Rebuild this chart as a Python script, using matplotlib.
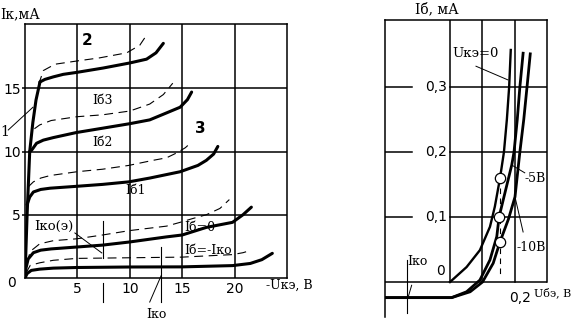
import matplotlib
matplotlib.use("Agg")
import matplotlib.pyplot as plt

# ---------------- data: left panel (Ik vs -Uke) ----------------
sat_u = [0.0, 0.2, 0.45, 0.75, 1.05, 1.43]
sat_i = [0.0, 5.0, 10.0, 12.3, 14.07, 15.5]

ib3_u = [1.43, 1.9, 2.7, 3.65, 4.9, 7.46, 10.0, 11.6, 12.5, 13.2]
ib3_i = [15.5, 15.7, 15.9, 16.1, 16.25, 16.6, 17.0, 17.3, 17.8, 18.55]
ib3d_u = [1.3, 1.75, 2.86, 4.9, 7.1, 9.7, 10.95, 11.6]
ib3d_i = [15.3, 16.4, 16.9, 17.15, 17.4, 17.8, 18.4, 19.2]

ib2_u = [0.45, 0.63, 1.1, 1.75, 2.7, 4.9, 7.46, 10.0, 11.9, 13.5, 14.8, 15.5, 15.9]
ib2_i = [10.0, 10.1, 10.65, 10.9, 11.1, 11.5, 11.85, 12.2, 12.5, 13.05, 13.5, 14.1, 14.7]
ib2d_u = [0.9, 1.4, 2.5, 4.95, 7.4, 10.0, 11.9, 13.2, 14.1]
ib2d_i = [11.8, 12.1, 12.45, 12.75, 12.9, 13.2, 13.75, 14.5, 15.4]

ib1_u = [0.2, 0.45, 0.8, 1.5, 2.4, 4.95, 7.4, 9.9, 11.9, 14.8, 16.5, 17.3, 18.0, 18.4]
ib1_i = [5.8, 6.4, 6.8, 7.0, 7.1, 7.25, 7.4, 7.6, 7.9, 8.4, 8.9, 9.3, 9.8, 10.4]
ib1d_u = [0.3, 0.8, 1.5, 2.4, 4.95, 7.4, 9.9, 12.2, 13.5, 14.5, 15.3, 15.9]
ib1d_i = [7.2, 7.6, 7.9, 8.1, 8.4, 8.6, 8.9, 9.3, 9.5, 9.9, 10.3, 10.75]

ib0_u = [0.0, 0.1, 0.3, 0.8, 1.5, 2.5, 4.95, 7.4, 10.0, 13.5, 15.0, 17.3, 19.8, 20.8, 21.6]
ib0_i = [0.0, 0.8, 1.5, 2.0, 2.2, 2.3, 2.45, 2.6, 2.85, 3.25, 3.4, 4.0, 4.4, 5.0, 5.6]
ib0d_u = [0.2, 0.5, 1.4, 2.7, 4.95, 7.4, 10.0, 12.0, 13.5, 14.8, 16.0, 17.3, 18.6, 19.5]
ib0d_i = [1.2, 2.1, 2.7, 2.95, 3.1, 3.4, 3.75, 3.95, 4.1, 4.4, 4.7, 5.0, 5.5, 6.2]

ibk_u = [0.0, 0.2, 0.6, 1.4, 2.7, 4.95, 10.0, 15.0, 19.8, 21.5, 22.6, 23.6]
ibk_i = [0.0, 0.35, 0.6, 0.7, 0.78, 0.83, 0.87, 0.88, 0.98, 1.15, 1.45, 1.95]
ibkd_u = [0.1, 0.5, 1.4, 2.7, 4.95, 10.0, 15.0, 19.8, 20.8, 21.6]
ibkd_i = [0.4, 1.0, 1.2, 1.4, 1.55, 1.6, 1.65, 1.85, 2.0, 2.2]

left_xticks = [5, 10, 15, 20]
left_yticks = [5, 10, 15]

# ---------------- data: right panel (Ib vs Ube) ----------------
a_u = [0.0, 0.051, 0.092, 0.123, 0.138, 0.154, 0.166, 0.175, 0.182, 0.187]
a_i = [0.0, 0.023, 0.049, 0.085, 0.116, 0.16, 0.2, 0.25, 0.3, 0.357]
b_u = [-0.2, 0.005, 0.051, 0.092, 0.123, 0.144, 0.151, 0.169, 0.19, 0.197, 0.207, 0.215, 0.225]
b_i = [-0.024, -0.024, -0.015, 0.003, 0.034, 0.07, 0.1, 0.137, 0.18, 0.2, 0.25, 0.3, 0.352]
c_u = [-0.2, 0.005, 0.062, 0.1, 0.133, 0.154, 0.18, 0.2, 0.215, 0.227, 0.237, 0.247]
c_i = [-0.024, -0.024, -0.015, 0.0, 0.029, 0.062, 0.097, 0.131, 0.2, 0.25, 0.3, 0.351]
circ_u = [0.154, 0.151, 0.155]
circ_i = [0.16, 0.1, 0.062]
right_yticks = [0.1, 0.2, 0.3]
right_ylabels = ["0,1", "0,2", "0,3"]
right_xgrid = [0.0, 0.1, 0.2]

SERIF = "DejaVu Serif"
SANS = "DejaVu Sans"

fig = plt.figure(figsize=(5.75, 3.23), dpi=100)

# ======================= left panel =======================
ax = fig.add_axes([25 / 575, 45 / 323, 262 / 575, 254 / 323])
ax.set_xlim(0, 25)
ax.set_ylim(0, 20.08)
for s in ax.spines.values():
    s.set_linewidth(1.1)
for x in left_xticks:
    ax.axvline(x, color="black", lw=1.1, zorder=1)
for y in left_yticks:
    ax.axhline(y, color="black", lw=1.1, zorder=1)

ax.set_xticks(left_xticks)
ax.set_xticklabels([str(v) for v in left_xticks], fontsize=10, family=SANS)
ax.set_yticks(left_yticks)
ax.set_yticklabels([str(v) for v in left_yticks], fontsize=10, family=SANS)
ax.tick_params(axis="x", length=0, pad=3)
ax.tick_params(axis="y", length=2, width=1.1, pad=1)

thick = dict(color="black", lw=2.2, solid_capstyle="round", solid_joinstyle="round", zorder=3)
thin = dict(color="black", lw=0.8, zorder=2)
dsh = (8, 5)

ax.plot(sat_u, sat_i, **thick)
for u, i in [(ib3_u, ib3_i), (ib2_u, ib2_i), (ib1_u, ib1_i), (ib0_u, ib0_i), (ibk_u, ibk_i)]:
    ax.plot(u, i, **thick)
for u, i in [(ib3d_u, ib3d_i), (ib2d_u, ib2d_i), (ib1d_u, ib1d_i), (ib0d_u, ib0d_i), (ibkd_u, ibkd_i)]:
    ax.plot(u, i, dashes=dsh, **thin)

# construction lines
ax.plot([7.45, 7.45], [4.5, 1.6], color="black", lw=0.8)
ax.plot([7.45, 7.45], [-0.4, -1.9], color="black", lw=0.8, clip_on=False)
ax.plot([13.0, 13.0], [2.45, -1.9], color="black", lw=0.8, clip_on=False)
ax.plot([4.76, 7.33], [3.56, 1.98], color="black", lw=0.7)
ax.plot([11.9, 13.0], [-1.9, 0.2], color="black", lw=0.7, clip_on=False)
ax.plot([-1.6, 0.76], [11.7, 13.5], color="black", lw=0.7, clip_on=False)

# labels
ax.text(-2.38, 20.87, "Iк,мА", fontsize=10, family=SERIF, ha="left", va="center")
ax.text(-1.29, -0.4, "0", fontsize=10, family=SANS, ha="center", va="center")
ax.text(22.95, -0.55, "-Uкэ, В", fontsize=9, family=SERIF, ha="left", va="center")
ax.text(-1.9, 11.55, "1", fontsize=10, family=SERIF, ha="center", va="center")
ax.text(5.9, 18.8, "2", fontsize=11, family=SANS, weight="bold", ha="center", va="center")
ax.text(16.7, 11.8, "3", fontsize=11, family=SANS, weight="bold", ha="center", va="center")
ax.text(7.4, 14.0, "Iб3", fontsize=9, family=SERIF, ha="center", va="center")
ax.text(7.4, 10.75, "Iб2", fontsize=9, family=SERIF, ha="center", va="center")
ax.text(10.5, 6.9, "Iб1", fontsize=9, family=SERIF, ha="center", va="center")
ax.text(15.2, 4.0, "Iб=0", fontsize=9, family=SERIF, ha="left", va="center")
ax.text(15.2, 2.2, "Iб=-Iко", fontsize=9, family=SERIF, ha="left", va="center")
ax.text(0.9, 4.1, "Iко(э)", fontsize=9.5, family=SERIF, ha="left", va="center")
ax.text(12.5, -2.9, "Iко", fontsize=9, family=SERIF, ha="center", va="center")

# ======================= right panel =======================
bx = fig.add_axes([385 / 575, 6 / 323, 162 / 575, 297 / 323])
bx.set_xlim(-0.2, 0.2985)
bx.set_ylim(-0.0538, 0.4031)
bx.set_xticks([])
bx.set_yticks([])
bx.spines["bottom"].set_visible(False)
bx.spines["right"].set_bounds(0, 0.4031)
for s in bx.spines.values():
    s.set_linewidth(1.1)

for x in right_xgrid:
    bx.plot([x, x], [0, 0.4031], color="black", lw=1.1, zorder=1)
bx.plot([-0.2, 0.2985], [0, 0], color="black", lw=1.1, zorder=1)
for y, lab in zip(right_yticks, right_ylabels):
    bx.plot([-0.2, -0.117], [y, y], color="black", lw=1.1, zorder=1)
    bx.plot([0.0, 0.2985], [y, y], color="black", lw=1.1, zorder=1)
    bx.text(-0.009, y, lab, fontsize=10, family=SANS, ha="right", va="center")
bx.text(-0.015, 0.0165, "0", fontsize=10, family=SANS, ha="right", va="center")

rthick = dict(color="black", lw=2.0, solid_joinstyle="round", zorder=3)
bx.plot(a_u, a_i, color="black", lw=1.7, solid_joinstyle="round", zorder=3)
bx.plot(b_u, b_i, **rthick)
bx.plot(c_u, c_i, **rthick)

bx.plot([0.154, 0.154], [0.16, 0.006], color="black", lw=0.8, dashes=(5, 4), zorder=2)
bx.scatter(circ_u, circ_i, s=55, facecolor="white", edgecolor="black", linewidth=0.9, zorder=5)

# leaders
bx.plot([0.08, 0.178], [0.332, 0.311], color="black", lw=0.7)
bx.plot([0.19, 0.23], [0.18, 0.168], color="black", lw=0.7)
bx.plot([0.2, 0.225], [0.131, 0.077], color="black", lw=0.7)
bx.plot([-0.133, -0.133], [0.034, -0.048], color="black", lw=0.8, clip_on=False)
bx.plot([-0.128, -0.118], [-0.022, -0.005], color="black", lw=0.7)

bx.text(-0.04, 0.42, "Iб, мА", fontsize=10, family=SERIF, ha="center", va="center", clip_on=False)
bx.text(0.006, 0.352, "Uкэ=0", fontsize=9.5, family=SERIF, ha="left", va="center")
bx.text(0.229, 0.16, "-5В", fontsize=9, family=SERIF, ha="left", va="center")
bx.text(0.206, 0.053, "-10В", fontsize=9, family=SERIF, ha="left", va="center")
bx.text(-0.13, 0.032, "Iко", fontsize=9, family=SERIF, ha="left", va="center")
bx.text(0.215, -0.024, "0,2", fontsize=10, family=SANS, ha="center", va="center")
bx.text(0.258, -0.016, "Uбэ, В", fontsize=8, family=SERIF, ha="left", va="center", clip_on=False)

fig.savefig("out.png", dpi=100)
